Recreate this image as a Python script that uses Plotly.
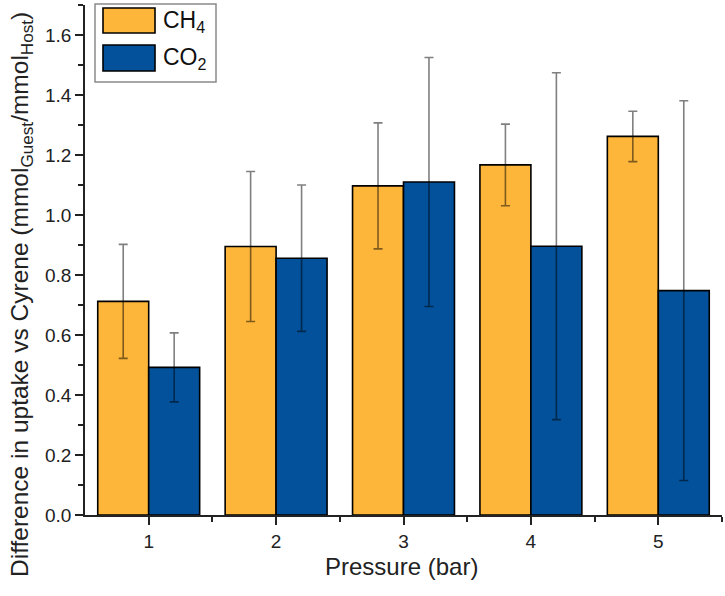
import plotly.graph_objects as go

pressure = [1, 2, 3, 4, 5]
ch4 = [0.712, 0.895, 1.097, 1.167, 1.262]
ch4_err = [0.190, 0.250, 0.210, 0.136, 0.084]
co2 = [0.492, 0.856, 1.110, 0.896, 0.748]
co2_err = [0.115, 0.244, 0.415, 0.578, 0.633]

ORANGE = "#FDB53A"
BLUE = "#02519A"
FONT = "Liberation Sans, Arial, sans-serif"

fig = go.Figure()
for name, vals, errs, col in [("CH<sub>4</sub>", ch4, ch4_err, ORANGE),
                              ("CO<sub>2</sub>", co2, co2_err, BLUE)]:
    fig.add_trace(go.Bar(
        x=pressure, y=vals, name=name,
        marker=dict(color=col, line=dict(color="black", width=1.6)),
        error_y=dict(type="data", array=errs, visible=True,
                     color="rgba(0,0,0,0.5)", thickness=1.6, width=4.5),
        showlegend=False,
    ))

L, R, T, B = 85, 3, 5, 81
W, H = 725, 596
pw, ph = W - L - R, H - T - B

def px(x):
    return (x - L) / pw

def py(y):
    return (H - B - y) / ph

shapes = [
    dict(type="rect", xref="paper", yref="paper", x0=px(95), x1=px(216),
         y0=py(82), y1=py(4), line=dict(color="#8a8a8a", width=1.5),
         fillcolor="white", layer="above"),
    dict(type="rect", xref="paper", yref="paper", x0=px(103), x1=px(155),
         y0=py(33), y1=py(8), line=dict(color="black", width=1.6),
         fillcolor=ORANGE, layer="above"),
    dict(type="rect", xref="paper", yref="paper", x0=px(103), x1=px(155),
         y0=py(71), y1=py(45), line=dict(color="black", width=1.6),
         fillcolor=BLUE, layer="above"),
]
annotations = [
    dict(xref="paper", yref="paper", x=px(161), y=py(22), xanchor="left",
         yanchor="middle", text="CH<sub>4</sub>", showarrow=False,
         font=dict(family=FONT, size=23, color="#111")),
    dict(xref="paper", yref="paper", x=px(161), y=py(59), xanchor="left",
         yanchor="middle", text="CO<sub>2</sub>", showarrow=False,
         font=dict(family=FONT, size=23, color="#111")),
    dict(xref="paper", yref="paper", x=px(21), y=py(295), xanchor="center",
         yanchor="middle", textangle=-90, showarrow=False,
         text="Difference in uptake vs Cyrene (mmol<sub>Guest</sub>/mmol<sub>Host</sub>)",
         font=dict(family=FONT, size=24.5, color="#222")),
    dict(xref="paper", yref="paper", x=px(401), y=py(566), xanchor="center",
         yanchor="middle", showarrow=False, text="Pressure (bar)",
         font=dict(family=FONT, size=24, color="#222")),
]

fig.update_layout(
    width=W, height=H,
    margin=dict(l=L, r=R, t=T, b=B),
    paper_bgcolor="white", plot_bgcolor="white",
    barmode="group", bargap=0.2, bargroupgap=0,
    font=dict(family=FONT, size=19, color="#222"),
    shapes=shapes, annotations=annotations,
    xaxis=dict(
        range=[0.5, 5.5], tickmode="array", tickvals=pressure,
        ticktext=[str(p) for p in pressure],
        showgrid=False, zeroline=False,
        showline=True, linecolor="#222", linewidth=1.6,
        ticks="outside", ticklen=8, tickwidth=1.6, tickcolor="#222",
        minor=dict(tickvals=[1.5, 2.5, 3.5, 4.5, 5.5], ticks="outside",
                   ticklen=5, tickwidth=1.6, tickcolor="#222"),
        tickfont=dict(family=FONT, size=19, color="#222"),
    ),
    yaxis=dict(
        range=[0, 1.7], tickmode="array",
        tickvals=[0, 0.2, 0.4, 0.6, 0.8, 1.0, 1.2, 1.4, 1.6],
        ticktext=["0.0", "0.2", "0.4", "0.6", "0.8", "1.0", "1.2", "1.4", "1.6"],
        showgrid=False, zeroline=False,
        showline=True, linecolor="#222", linewidth=1.6,
        ticks="outside", ticklen=8, tickwidth=1.6, tickcolor="#222",
        minor=dict(tickvals=[0.1, 0.3, 0.5, 0.7, 0.9, 1.1, 1.3, 1.5, 1.7],
                   ticks="outside", ticklen=5, tickwidth=1.6, tickcolor="#222"),
        tickfont=dict(family=FONT, size=19, color="#222"),
    ),
)

fig.write_html("out.html")
